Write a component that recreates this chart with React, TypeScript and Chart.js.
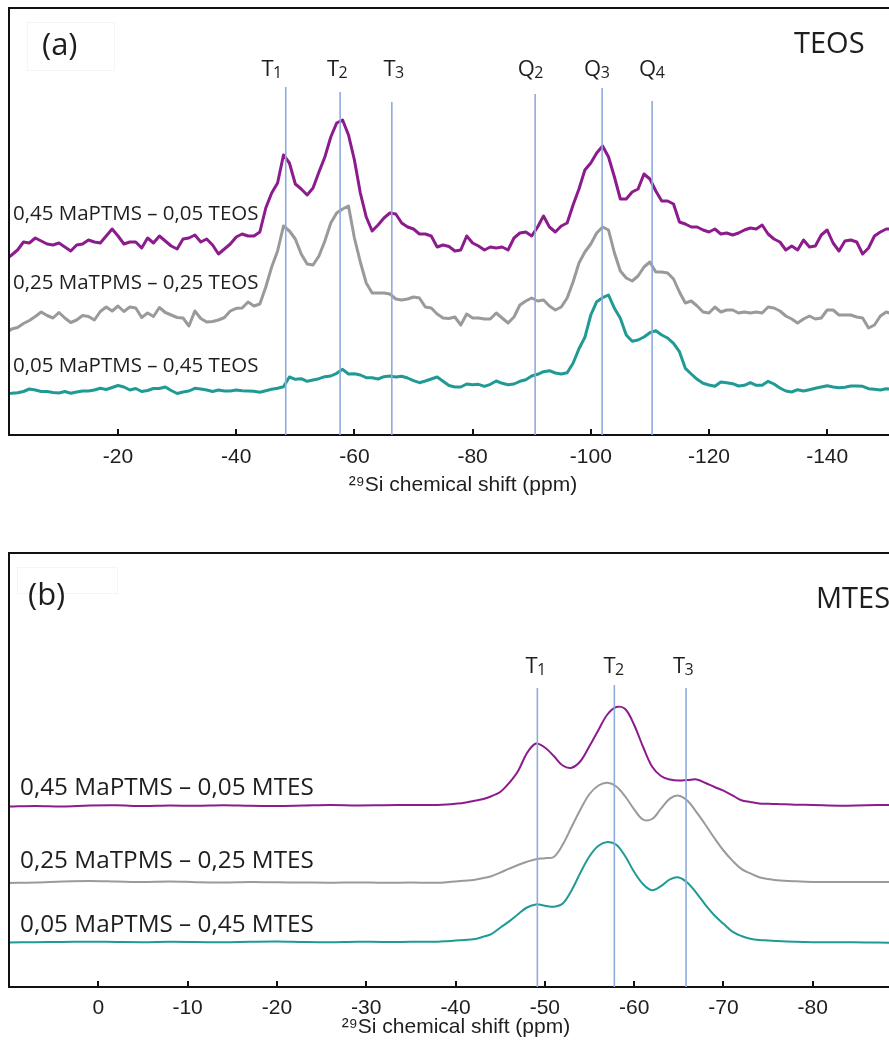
import React, { useEffect, useRef } from "react";
import { Chart, registerables } from "chart.js";

Chart.register(...registerables);

// ---------------- Panel (a): TEOS ----------------
const TEOS_PPM = [
  -1.55, -2, -3, -4, -5, -6, -7, -8, -9, -10,
  -11, -12, -13, -14, -15, -16, -17, -18, -19, -20,
  -21, -22, -23, -24, -25, -26, -27, -28, -29, -30,
  -31, -32, -33, -34, -35, -36, -37, -38, -39, -40,
  -41, -42, -43, -44, -45, -46, -47, -48, -49, -50,
  -51, -52, -53, -54, -55, -56, -57, -58, -59, -60,
  -61, -62, -63, -64, -65, -66, -67, -68, -69, -70,
  -71, -72, -73, -74, -75, -76, -77, -78, -79, -80,
  -81, -82, -83, -84, -85, -86, -87, -88, -89, -90,
  -91, -92, -93, -94, -95, -96, -97, -98, -99, -100,
  -101, -102, -103, -104, -105, -106, -107, -108, -109, -110,
  -111, -112, -113, -114, -115, -116, -117, -118, -119, -120,
  -121, -122, -123, -124, -125, -126, -127, -128, -129, -130,
  -131, -132, -133, -134, -135, -136, -137, -138, -139, -140,
  -141, -142, -143, -144, -145, -146, -147, -148, -149, -150,
  -150.5,
];

// 0,45 MaPTMS – 0,05 TEOS (intensity a.u., offset included)
const TEOS_S1 = [
  178, 180, 185, 193, 192, 197, 194, 191, 190, 192,
  188, 184, 190, 191, 195, 193, 192, 199, 206, 199,
  191, 193, 193, 187, 197, 192, 199, 194, 189, 186,
  196, 197, 200, 193, 196, 190, 181, 186, 191, 198,
  201, 199, 199, 203, 227, 242, 252, 280, 272, 251,
  246, 240, 247, 263, 278, 298, 312, 315, 300, 275,
  242, 218, 204, 210, 217, 222, 221, 212, 208, 206,
  201, 201, 199, 188, 190, 188.5, 184, 185, 199, 192,
  189, 185, 188, 187, 188, 185, 197, 202, 203, 199,
  208, 219, 208, 203, 209, 212, 230, 246, 265, 272,
  282, 289, 278, 258, 236, 236, 243, 246, 261, 256,
  244, 234, 234, 231, 213, 211, 208, 208, 205, 203,
  206, 201, 202, 200, 202, 205, 207, 206, 210, 201,
  196, 193, 185, 189, 185, 195, 188, 189, 200, 205,
  192, 184, 194, 195, 193, 181, 187, 199, 203, 206,
  206,
];

// 0,25 MaTPMS – 0,25 TEOS
const TEOS_S2 = [
  104, 106, 107.5, 111.5, 114.5, 118.5, 123, 119.5, 117, 122.5,
  117, 112.5, 115, 119.5, 118.5, 115, 123.5, 128, 124, 129,
  123.5, 128, 127, 117.5, 122, 118.5, 127.5, 122.5, 120, 117.5,
  117, 109, 124, 116.5, 113, 113.5, 115, 117.5, 124, 126.7,
  127, 133, 129, 131, 148, 168, 184, 209, 204, 196,
  181, 171, 170, 179, 194, 212, 222, 226, 229, 197,
  173, 152, 142, 142, 142, 141, 136, 135, 136, 138,
  137, 128, 127, 121, 117, 116.5, 118, 110, 121, 117,
  117, 116, 116, 122, 117, 112, 118, 130, 134, 137,
  134, 135, 129, 125, 128, 137, 153, 172, 183, 191,
  202, 208, 205, 182, 164, 157, 154, 159, 168, 173,
  163, 163, 162, 156, 143, 132, 134, 129, 123, 122,
  128, 123, 125, 125, 122, 123, 122, 123, 122, 128,
  127, 124, 119, 116, 112, 116, 119, 116, 117, 125,
  125, 120, 120, 120, 118, 117, 107, 110, 119, 123,
  122,
];

// 0,05 MaPTMS – 0,45 TEOS
const TEOS_S3 = [
  41.5, 41.7, 42.3, 43.5, 46, 45, 43.5, 43.5, 42.5, 42,
  43.5, 41.7, 43, 44, 44, 45, 46.7, 45.5, 47.5, 49.5,
  48, 45, 46.5, 43.5, 44.5, 46.5, 46.5, 48, 44.5, 41.5,
  43, 44, 46.7, 46, 45, 43.5, 45, 44, 44, 45,
  44.3, 44, 43.7, 42.7, 44.3, 45.7, 46.7, 48.3, 58, 55.7,
  56.3, 53.7, 55, 56.3, 58.3, 59, 61.7, 65.7, 61, 61.3,
  60, 57.3, 57.3, 56, 58.3, 59, 58, 58.7, 57, 54.3,
  52.3, 54, 56, 58, 53.7, 49.5, 48, 48, 51, 50.3,
  50.7, 48.7, 50.7, 54, 51.7, 50.3, 51, 53.7, 55.3, 59,
  60.7, 63.3, 64.3, 62, 61, 62.3, 71.7, 86.3, 97.7, 120,
  133.3, 137.3, 140, 126.7, 116.7, 100, 93.7, 95, 98, 102.3,
  104.3, 100, 97, 91.7, 83.3, 66.7, 61, 55.7, 51.7, 50,
  48.7, 53, 52.3, 51.3, 49, 49.7, 52.3, 49.7, 49.7, 53.7,
  51, 47, 44, 43, 45.3, 44, 45.3, 46.7, 48, 49.3,
  48, 47.3, 47.7, 49, 49, 48.7, 46.3, 45.7, 45, 46.3,
  46,
];

const TEOS_TICKS = [-20, -40, -60, -80, -100, -120, -140];
const TEOS_LABELS = [
  "0,45 MaPTMS – 0,05 TEOS",
  "0,25 MaTPMS – 0,25 TEOS",
  "0,05 MaPTMS – 0,45 TEOS",
];
const TEOS_REF_PPM = [-48.38, -57.58, -66.33, -90.58, -101.92, -110.38];
const TEOS_REF_TOP = [348, 343, 333, 341, 347, 334];
const TEOS_REF_MAIN = ["T", "T", "T", "Q", "Q", "Q"];
const TEOS_REF_SUB = ["1", "2", "3", "2", "3", "4"];
const TEOS_REF_LABEL_PPM = [-46.07, -57.15, -66.71, -89.85, -101.08, -110.4];

// ---------------- Panel (b): MTES ----------------
const MTES_PPM = [
  10, 7, 4, 1, -2, -5, -8, -11, -14, -17, -20, -23, -26, -29, -32, -35, -37,
  -38, -39, -40, -41, -42, -43, -44, -45, -46, -47,
  -48, -49, -50, -51, -52, -53, -54, -55, -56, -57,
  -58, -59, -60, -61, -62, -63, -64, -65, -66, -67,
  -68, -69, -70, -71, -72, -73, -74, -75, -76,
  -78, -80, -83, -86, -88.5, -90.1,
];

const MTES_S1 = [
  180.5, 181, 180.5, 181.5, 181.7, 181, 181.5, 181.2, 181.8, 181.2, 181, 181.5, 182, 181.6, 181.8, 182, 182,
  182, 182.5, 183.3, 184.3, 186, 187.8, 190.8, 195, 204, 216,
  234, 243.5, 239.5, 231, 221.5, 219.3, 226, 241, 257, 272.5,
  280, 278, 262, 240, 220.5, 211, 207.5, 206.4, 207, 207.5,
  204, 200, 196.3, 191.6, 186.7, 185, 183.6, 183.2, 183,
  182.3, 182, 181.3, 181.8, 182, 182,
];

const MTES_S2 = [
  104, 104.5, 105.5, 106, 105.5, 105, 105.5, 104.8, 104.5, 105, 104.7, 104.5, 104.3, 104.6, 104.2, 104.4, 104.2,
  104.2, 104.8, 105.5, 106.3, 107, 108.8, 110.8, 114.4, 118.3, 122,
  125.3, 127.8, 128.8, 130, 142.4, 160.2, 177.8, 193, 201.5, 204.2,
  200.5, 190.5, 177.6, 167.4, 168, 178.3, 188.4, 191.3, 186, 174.6,
  162, 148.7, 136.5, 126.4, 118.1, 113.6, 109.8, 108, 106.8,
  105.7, 105, 105, 105, 105, 105,
];

const MTES_S3 = [
  44.5, 44.8, 45, 45.3, 45, 44.8, 45.2, 45, 44.7, 45.2, 45.5, 45, 44.8, 45.3, 45, 45.2, 45.3,
  45.3, 45.8, 46.4, 47, 47.7, 50, 52.9, 59.3, 65.6, 72.8,
  79.5, 82.6, 81.3, 80.2, 83.4, 96.8, 114.6, 130.7, 141.2, 145.1,
  142.2, 130.7, 115, 102.8, 96.8, 100.9, 107.6, 109.6, 104.1, 93.7,
  81.9, 71.5, 63.2, 55.3, 51, 48.3, 47, 46.6, 46,
  45.2, 44.8, 44.7, 44.6, 44.3, 44.3,
];

const MTES_TICKS = [0, -10, -20, -30, -40, -50, -60, -70, -80];
const MTES_LABELS = [
  "0,45 MaPTMS – 0,05 MTES",
  "0,25 MaTPMS – 0,25 MTES",
  "0,05 MaPTMS – 0,45 MTES",
];
const MTES_REF_PPM = [-49.16, -57.78, -65.81];
const MTES_REF_TOP = [299, 302, 299];
const MTES_REF_MAIN = ["T", "T", "T"];
const MTES_REF_SUB = ["1", "2", "3"];
const MTES_REF_LABEL_PPM = [-49.01, -57.75, -65.53];

// ---------------- styles ----------------
const COLORS = ["#8c1c8d", "#9a9a9a", "#1f9a94"];
const REF_COLOR = "#8fabdc";
const SANS = '"Open Sans", "Noto Sans", sans-serif';
const AXIS_FONT = '"Liberation Sans", Arial, sans-serif';
const TEXT_COLOR = "#1e1e1e";

type PanelCfg = {
  ppm: number[];
  series: number[][];
  lineWidth: number;
  tension: number;
  xMin: number;
  xMax: number;
  yMax: number;
  ticks: number[];
  refPpm: number[];
  refTop: number[];
  refMain: string[];
  refSub: string[];
  refLabelPpm: number[];
  refLabelY: number;
  labels: string[];
  labelY: number[];
  labelSize: number;
  labelDx: number;
  padding: { left: number; top: number; right: number; bottom: number };
  axisHeight: number;
  tickPad: number;
  titlePad: number;
  letter: { text: string; x: number; y: number };
  name: { text: string; x: number; y: number };
  box: [number, number, number, number];
};

function makeOverlay(p: PanelCfg) {
  return {
    id: "overlay",
    afterDraw(chart: any) {
      const { ctx, chartArea: a, scales } = chart;
      const xs = scales.x;
      const ys = scales.y;
      ctx.save();
      // faint text box
      ctx.strokeStyle = "rgba(0,0,0,0.04)";
      ctx.lineWidth = 1;
      ctx.strokeRect(p.box[0] + 0.5, p.box[1] + 0.5, p.box[2], p.box[3]);
      // frame (left + top)
      ctx.strokeStyle = "#111";
      ctx.lineWidth = 2;
      ctx.beginPath();
      ctx.moveTo(a.left, a.bottom);
      ctx.lineTo(a.left, a.top);
      ctx.lineTo(chart.width, a.top);
      ctx.stroke();
      // inward tick marks
      ctx.beginPath();
      for (const v of p.ticks) {
        const px = Math.round(xs.getPixelForValue(v));
        ctx.moveTo(px, a.bottom);
        ctx.lineTo(px, a.bottom - 6);
      }
      ctx.stroke();
      // reference labels with subscripts
      ctx.fillStyle = TEXT_COLOR;
      ctx.textAlign = "left";
      ctx.textBaseline = "alphabetic";
      const by = ys.getPixelForValue(p.refLabelY);
      p.refMain.forEach((m, i) => {
        ctx.font = `22px ${SANS}`;
        const wm = ctx.measureText(m).width;
        ctx.font = `16px ${SANS}`;
        const wsub = ctx.measureText(p.refSub[i]).width;
        const cx = xs.getPixelForValue(p.refLabelPpm[i]);
        const sx = cx - (wm + wsub) / 2;
        ctx.font = `22px ${SANS}`;
        ctx.fillText(m, sx, by);
        ctx.font = `16px ${SANS}`;
        ctx.fillText(p.refSub[i], sx + wm - 0.5, by + 2);
      });
      // series labels
      ctx.font = `${p.labelSize}px ${SANS}`;
      p.labels.forEach((t, i) => {
        ctx.fillText(t, a.left + p.labelDx, ys.getPixelForValue(p.labelY[i]));
      });
      // panel letter + precursor name
      ctx.font = `31px ${SANS}`;
      ctx.fillText(p.letter.text, p.letter.x, p.letter.y);
      ctx.font = `29px ${SANS}`;
      ctx.fillText(p.name.text, p.name.x, p.name.y);
      ctx.restore();
    },
  };
}

function makeConfig(p: PanelCfg): any {
  const refSets = p.refPpm.map((v, i) => ({
    data: [
      { x: v, y: 0 },
      { x: v, y: p.refTop[i] },
    ],
    borderColor: REF_COLOR,
    borderWidth: 1.6,
    pointRadius: 0,
    order: 0,
  }));
  const specSets = p.series.map((vals, si) => ({
    data: p.ppm.map((x, i) => ({ x, y: vals[i] })),
    borderColor: COLORS[si],
    borderWidth: p.lineWidth,
    pointRadius: 0,
    tension: p.tension,
    borderJoinStyle: "round",
    order: 1,
  }));
  return {
    type: "line",
    data: { datasets: [...refSets, ...specSets] },
    options: {
      animation: false,
      responsive: false,
      maintainAspectRatio: false,
      events: [],
      layout: { padding: p.padding },
      plugins: { legend: { display: false }, tooltip: { enabled: false } },
      scales: {
        x: {
          type: "linear",
          reverse: true,
          min: p.xMin,
          max: p.xMax,
          afterBuildTicks: (s: any) => {
            s.ticks = p.ticks.map((v) => ({ value: v }));
          },
          afterFit: (s: any) => {
            s.height = p.axisHeight;
          },
          grid: { display: false, drawTicks: false },
          border: { display: true, color: "#111", width: 2 },
          ticks: {
            autoSkip: false,
            maxRotation: 0,
            padding: p.tickPad,
            color: TEXT_COLOR,
            font: { family: AXIS_FONT, size: 21 },
            callback: (v: any) => String(v),
          },
          title: {
            display: true,
            text: "²⁹Si chemical shift (ppm)",
            color: TEXT_COLOR,
            font: { family: AXIS_FONT, size: 21 },
            padding: { top: 0, bottom: p.titlePad },
          },
        },
        y: { display: false, min: 0, max: p.yMax },
      },
    },
    plugins: [makeOverlay(p)],
  };
}

const TOP: PanelCfg = {
  ppm: TEOS_PPM,
  series: [TEOS_S1, TEOS_S2, TEOS_S3],
  lineWidth: 3,
  tension: 0,
  xMin: -155.2,
  xMax: -1.55,
  yMax: 427,
  ticks: TEOS_TICKS,
  refPpm: TEOS_REF_PPM,
  refTop: TEOS_REF_TOP,
  refMain: TEOS_REF_MAIN,
  refSub: TEOS_REF_SUB,
  refLabelPpm: TEOS_REF_LABEL_PPM,
  refLabelY: 359,
  labels: TEOS_LABELS,
  labelY: [215.5, 146.5, 63.5],
  labelSize: 20.5,
  labelDx: 4,
  padding: { left: 9, top: 8, right: 1, bottom: 0 },
  axisHeight: 85,
  tickPad: 9.4,
  titlePad: 22.4,
  letter: { text: "(a)", x: 42, y: 55 },
  name: { text: "TEOS", x: 794, y: 53 },
  box: [27, 22, 87, 48],
};

const BOTTOM: PanelCfg = {
  ppm: MTES_PPM,
  series: [MTES_S1, MTES_S2, MTES_S3],
  lineWidth: 2,
  tension: 0.35,
  xMin: -90.1,
  xMax: 10,
  yMax: 434,
  ticks: MTES_TICKS,
  refPpm: MTES_REF_PPM,
  refTop: MTES_REF_TOP,
  refMain: MTES_REF_MAIN,
  refSub: MTES_REF_SUB,
  refLabelPpm: MTES_REF_LABEL_PPM,
  refLabelY: 314,
  labels: MTES_LABELS,
  labelY: [192, 119, 55.5],
  labelSize: 24.3,
  labelDx: 11,
  padding: { left: 9, top: 13, right: 1, bottom: 0 },
  axisHeight: 61,
  tickPad: 8.2,
  titlePad: 8.6,
  letter: { text: "(b)", x: 28, y: 65 },
  name: { text: "MTES", x: 816, y: 68 },
  box: [17, 27, 100, 26],
};

export default function App() {
  const topRef = useRef<HTMLCanvasElement>(null);
  const botRef = useRef<HTMLCanvasElement>(null);

  useEffect(() => {
    const c1 = new Chart(topRef.current as HTMLCanvasElement, makeConfig(TOP));
    const c2 = new Chart(botRef.current as HTMLCanvasElement, makeConfig(BOTTOM));
    return () => {
      c1.destroy();
      c2.destroy();
    };
  }, []);

  return (
    <div
      style={{
        position: "fixed",
        left: 0,
        top: 0,
        width: 889,
        height: 1048,
        overflow: "hidden",
        background: "#fff",
      }}
    >
      <canvas
        ref={topRef}
        width={918}
        height={520}
        style={{ position: "absolute", left: 0, top: 0, width: 918, height: 520 }}
      />
      <canvas
        ref={botRef}
        width={904}
        height={508}
        style={{ position: "absolute", left: 0, top: 540, width: 904, height: 508 }}
      />
    </div>
  );
}
